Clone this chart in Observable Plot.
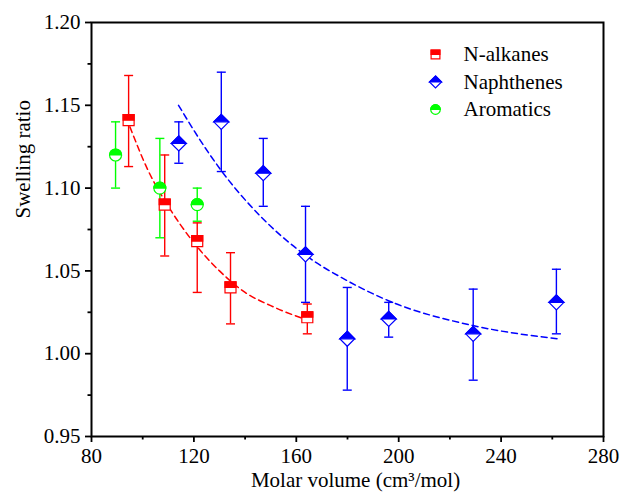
<!DOCTYPE html>
<html>
<head>
<meta charset="utf-8">
<script src="https://cdn.jsdelivr.net/npm/d3@7"></script>
<script src="https://cdn.jsdelivr.net/npm/@observablehq/plot@0.6"></script>
<style>
  html, body { margin: 0; padding: 0; background: white; }
</style>
</head>
<body>
<div id="chart"></div>
<script>
// ---- Data ----
const alkX  = [94.5, 108.6, 121.3, 134.3, 164.3];
const alkY  = [1.141, 1.090, 1.068, 1.040, 1.022];
const alkHi = [1.168, 1.120, 1.079, 1.061, 1.030];
const alkLo = [1.113, 1.059, 1.037, 1.018, 1.012];

const napX  = [114.1, 130.7, 147.1, 163.6, 179.9, 196.1, 229.1, 261.6];
const napY  = [1.127, 1.140, 1.109, 1.060, 1.009, 1.021, 1.012, 1.031];
const napHi = [1.140, 1.170, 1.130, 1.089, 1.040, 1.031, 1.039, 1.051];
const napLo = [1.115, 1.110, 1.089, 1.031, 0.978, 1.010, 0.984, 1.012];

const aroX  = [89.4, 106.7, 121.3];
const aroY  = [1.120, 1.100, 1.090];
const aroHi = [1.140, 1.130, 1.100];
const aroLo = [1.100, 1.070, 1.080];

const alkFitX = [95, 102, 110, 120, 130, 140, 150, 163];
const alkFitY = [1.137, 1.111, 1.089, 1.067, 1.050, 1.037, 1.029, 1.021];

const napFitX = [114, 122, 130, 146, 164, 180, 196, 229, 262];
const napFitY = [1.150, 1.130, 1.112, 1.083, 1.059, 1.044, 1.032, 1.017, 1.009];

const seriesNames = ["N-alkanes", "Naphthenes", "Aromatics"];
const seriesColors = ["#ff0000", "#0000ff", "#00ff00"];

const xMajor = [80, 120, 160, 200, 240, 280];
const xMinor = [100, 140, 180, 220, 260];
const yMajor = [0.95, 1.00, 1.05, 1.10, 1.15, 1.20];
const yMinor = [0.975, 1.025, 1.075, 1.125, 1.175];

const xLabel = "Molar volume (cm³/mol)";
const yLabel = "Swelling ratio";

// ---- Build tables ----
const rows = (xs, ys, his, los) => xs.map((x, i) => ({x, y: ys[i], hi: his[i], lo: los[i]}));
const alk = rows(alkX, alkY, alkHi, alkLo);
const nap = rows(napX, napY, napHi, napLo);
const aro = rows(aroX, aroY, aroHi, aroLo);
const alkFit = alkFitX.map((x, i) => ({x, y: alkFitY[i]}));
const napFit = napFitX.map((x, i) => ({x, y: napFitY[i]}));

const FONT = "'Liberation Serif', 'Times New Roman', serif";

// ---- Custom symbols ----
const sym = fn => ({draw(c, size) { fn(c, Math.sqrt(size / Math.PI)); }});
const squareFull = sym((c, h) => { c.moveTo(-h, -h); c.lineTo(h, -h); c.lineTo(h, h); c.lineTo(-h, h); c.closePath(); });
const squareTop  = sym((c, h) => { c.moveTo(-h, -h); c.lineTo(h, -h); c.lineTo(h, 0); c.lineTo(-h, 0); c.closePath(); });
const diamondFull = sym((c, h) => { c.moveTo(0, -h); c.lineTo(h, 0); c.lineTo(0, h); c.lineTo(-h, 0); c.closePath(); });
const diamondTop  = sym((c, h) => { c.moveTo(0, -h); c.lineTo(h, 0); c.lineTo(-h, 0); c.closePath(); });
const circleFull = sym((c, h) => { c.moveTo(h, 0); c.arc(0, 0, h, 0, 2 * Math.PI); c.closePath(); });
const circleTop  = sym((c, h) => { c.moveTo(-h, 0); c.arc(0, 0, h, Math.PI, 2 * Math.PI); c.closePath(); });
const cap = sym((c, h) => { c.moveTo(-h, 0); c.lineTo(h, 0); });

const markerDefs = [
  {full: squareFull, top: squareTop, r: 5.5},
  {full: diamondFull, top: diamondTop, r: 7.5},
  {full: circleFull, top: circleTop, r: 6}
];

function errorBars(data, color) {
  return [
    Plot.ruleX(data, {x: "x", y1: "lo", y2: "hi", stroke: color, strokeWidth: 1.4}),
    Plot.dot(data, {x: "x", y: "hi", symbol: cap, r: 4.5, stroke: color, strokeWidth: 1.4, fill: "none"}),
    Plot.dot(data, {x: "x", y: "lo", symbol: cap, r: 4.5, stroke: color, strokeWidth: 1.4, fill: "none"})
  ];
}
function markers(data, k) {
  const m = markerDefs[k], color = seriesColors[k];
  return [
    Plot.dot(data, {x: "x", y: "y", symbol: m.full, r: m.r, fill: "white", stroke: color, strokeWidth: 1.2}),
    Plot.dot(data, {x: "x", y: "y", symbol: m.top, r: m.r, fill: color, stroke: color, strokeWidth: 1.2})
  ];
}
function legendEntry(k) {
  const m = markerDefs[k], color = seriesColors[k];
  const dy = 32 + 27.5 * k;
  return [
    Plot.dot([0], {frameAnchor: "top-left", dx: 344, dy, symbol: m.full, r: m.r * 0.8, fill: "white", stroke: color, strokeWidth: 1.2}),
    Plot.dot([0], {frameAnchor: "top-left", dx: 344, dy, symbol: m.top, r: m.r * 0.8, fill: color, stroke: color, strokeWidth: 1.2}),
    Plot.text([seriesNames[k]], {frameAnchor: "top-left", dx: 372, dy, text: d => d, textAnchor: "start", lineAnchor: "middle", fill: "black", fontFamily: FONT, fontSize: 21})
  ];
}

const axisText = {fontFamily: FONT, fontSize: 21, fill: "black"};

const chart = Plot.plot({
  width: 623,
  height: 497,
  marginTop: 22,
  marginLeft: 91,
  marginRight: 20,
  marginBottom: 61,
  style: {fontFamily: FONT, fontSize: "21px", color: "black", background: "white"},
  x: {domain: [80, 280]},
  y: {domain: [0.95, 1.20]},
  marks: [
    Plot.axisX({ticks: xMajor, tickSize: 6, tickPadding: 6, strokeWidth: 1.8, label: null, tickFormat: d3.format("d"), ...axisText}),
    Plot.axisX({ticks: xMinor, tickSize: 3.5, strokeWidth: 1.8, label: null, tickFormat: () => ""}),
    Plot.axisY({ticks: yMajor, tickSize: 6, tickPadding: 5, strokeWidth: 1.8, label: null, tickFormat: d3.format(".2f"), ...axisText}),
    Plot.axisY({ticks: yMinor, tickSize: 3.5, strokeWidth: 1.8, label: null, tickFormat: () => ""}),
    Plot.text([yLabel], {frameAnchor: "left", dx: -68.5, dy: -11, rotate: -90, text: d => d, fill: "black", fontFamily: FONT, fontSize: 21}),
    Plot.text([xLabel], {frameAnchor: "bottom", dy: 50, dx: 8, text: d => d, fill: "black", fontFamily: FONT, fontSize: 21}),
    ...errorBars(alk, seriesColors[0]),
    ...errorBars(nap, seriesColors[1]),
    ...errorBars(aro, seriesColors[2]),
    Plot.line(alkFit, {x: "x", y: "y", curve: "monotone-x", stroke: seriesColors[0], strokeWidth: 1.5, strokeDasharray: "6,4"}),
    Plot.line(napFit, {x: "x", y: "y", curve: "monotone-x", stroke: seriesColors[1], strokeWidth: 1.5, strokeDasharray: "6,4"}),
    ...markers(alk, 0),
    ...markers(nap, 1),
    ...markers(aro, 2),
    ...legendEntry(0),
    ...legendEntry(1),
    ...legendEntry(2),
    Plot.frame({stroke: "black", strokeWidth: 2})
  ]
});
document.getElementById("chart").appendChild(chart);
</script>
</body>
</html>
